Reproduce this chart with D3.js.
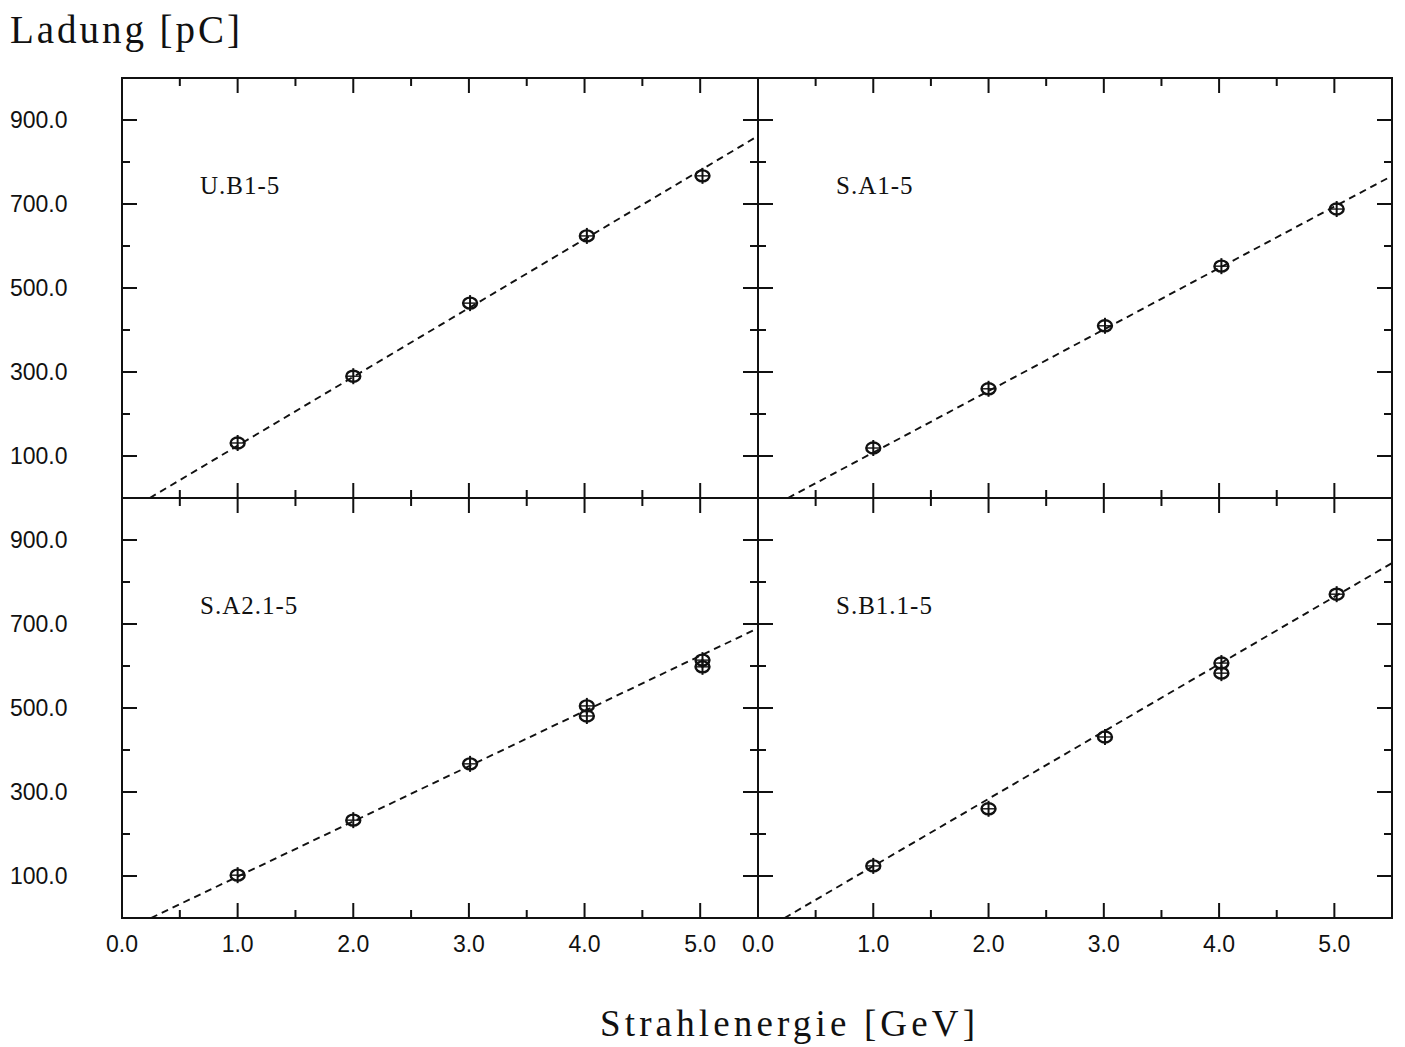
<!DOCTYPE html>
<html>
<head>
<meta charset="utf-8">
<script src="https://cdn.jsdelivr.net/npm/d3@7/dist/d3.min.js"></script>
<style>
  html, body { margin: 0; padding: 0; background: #fff; }
  svg { display: block; }
</style>
</head>
<body>
<svg id="chart" width="1405" height="1047"></svg>
<script>
// ---- data ----
const panelNames = ["U.B1-5", "S.A1-5", "S.A2.1-5", "S.B1.1-5"];
const xTickValues = [0, 1, 2, 3, 4, 5];
const xTickLabels = ["0.0", "1.0", "2.0", "3.0", "4.0", "5.0"];
const yTickValues = [100, 300, 500, 700, 900];
const yTickLabels = ["100.0", "300.0", "500.0", "700.0", "900.0"];
const energies = [1.0, 2.0, 3.01, 4.02, 5.02];
const chargeUB1 = [[131], [290], [464], [624], [767]];
const chargeSA1 = [[119], [260], [410], [552], [688]];
const chargeSA21 = [[102], [233], [367], [505, 481], [614, 598]];
const chargeSB11 = [[124], [260], [431], [607, 583], [771]];
const fitUB1 = [[0.24, 0], [5.5, 862]];
const fitSA1 = [[0.26, 0], [5.5, 767]];
const fitSA21 = [[0.25, 0], [5.5, 690]];
const fitSB11 = [[0.23, 0], [5.5, 845]];
const yLabel = "Ladung [pC]";
const xLabel = "Strahlenergie [GeV]";

// ---- layout ----
const svg = d3.select("#chart");
const L = 122, M = 758, R = 1392, T = 78, MY = 498, B = 918;
const panels = [
  { name: panelNames[0], charges: chargeUB1, fit: fitUB1, x0: L, x1: M, y0: T, y1: MY },
  { name: panelNames[1], charges: chargeSA1, fit: fitSA1, x0: M, x1: R, y0: T, y1: MY },
  { name: panelNames[2], charges: chargeSA21, fit: fitSA21, x0: L, x1: M, y0: MY, y1: B },
  { name: panelNames[3], charges: chargeSB11, fit: fitSB11, x0: M, x1: R, y0: MY, y1: B }
];
const xDomain = [0, 5.5], yDomain = [0, 1000];
const majorLen = 15, minorLen = 8;
const ink = "#111";
const serif = "'Liberation Serif', 'DejaVu Serif', serif";

panels.forEach((p, i) => {
  const x = d3.scaleLinear().domain(xDomain).range([p.x0, p.x1]);
  const y = d3.scaleLinear().domain(yDomain).range([p.y1, p.y0]);
  const g = svg.append("g");
  const clipId = "clip" + i;
  svg.append("clipPath").attr("id", clipId).append("rect")
    .attr("x", p.x0).attr("y", p.y0).attr("width", p.x1 - p.x0).attr("height", p.y1 - p.y0);

  // frame
  g.append("rect").attr("x", p.x0).attr("y", p.y0)
    .attr("width", p.x1 - p.x0).attr("height", p.y1 - p.y0)
    .attr("fill", "none").attr("stroke", ink).attr("stroke-width", 2);

  // x ticks (top & bottom edges, inward)
  d3.range(0.5, 5.5, 0.5).forEach(v => {
    const major = Math.abs(v - Math.round(v)) < 1e-6;
    const len = major ? majorLen : minorLen;
    const px = x(v);
    g.append("line").attr("x1", px).attr("x2", px).attr("y1", p.y0).attr("y2", p.y0 + len)
      .attr("stroke", ink).attr("stroke-width", 2);
    g.append("line").attr("x1", px).attr("x2", px).attr("y1", p.y1).attr("y2", p.y1 - len)
      .attr("stroke", ink).attr("stroke-width", 2);
  });
  // y ticks (left & right edges, inward)
  d3.range(100, 1000, 100).forEach(v => {
    const major = yTickValues.includes(v);
    const len = major ? majorLen : minorLen;
    const py = y(v);
    g.append("line").attr("x1", p.x0).attr("x2", p.x0 + len).attr("y1", py).attr("y2", py)
      .attr("stroke", ink).attr("stroke-width", 2);
    g.append("line").attr("x1", p.x1).attr("x2", p.x1 - len).attr("y1", py).attr("y2", py)
      .attr("stroke", ink).attr("stroke-width", 2);
  });

  // fit line
  g.append("path")
    .attr("clip-path", `url(#${clipId})`)
    .attr("d", d3.line().x(d => x(d[0])).y(d => y(d[1]))(p.fit))
    .attr("fill", "none").attr("stroke", ink).attr("stroke-width", 1.9)
    .attr("stroke-dasharray", "7,5");

  // markers
  p.charges.forEach((vals, k) => {
    vals.forEach(v => {
      const cx = x(energies[k]), cy = y(v);
      const m = g.append("g").attr("transform", `translate(${cx},${cy})`);
      m.append("line").attr("x1", 0).attr("x2", 0).attr("y1", -8).attr("y2", 8)
        .attr("stroke", ink).attr("stroke-width", 2);
      m.append("line").attr("x1", -7).attr("x2", 7).attr("y1", 0).attr("y2", 0)
        .attr("stroke", ink).attr("stroke-width", 1.4);
      m.append("ellipse").attr("rx", 7).attr("ry", 5.5)
        .attr("fill", "none").attr("stroke", ink).attr("stroke-width", 2.4);
    });
  });

  // panel label
  g.append("text").attr("x", p.x0 + 78).attr("y", p.y0 + 116)
    .attr("font-family", serif)
    .attr("font-size", 25).attr("letter-spacing", 1.0).attr("fill", ink)
    .text(p.name);

  // y tick labels (left column only)
  if (p.x0 === L) {
    yTickValues.forEach((v, j) => {
      g.append("text").attr("x", 10).attr("y", y(v) + 8)
        .attr("font-family", "'Liberation Sans', Arial, sans-serif")
        .attr("font-size", 23).attr("fill", ink)
        .text(yTickLabels[j]);
    });
  }
  // x tick labels (bottom row only)
  if (p.y1 === B) {
    xTickValues.forEach((v, j) => {
      g.append("text").attr("x", x(v)).attr("y", B + 34)
        .attr("text-anchor", "middle")
        .attr("font-family", "'Liberation Sans', Arial, sans-serif")
        .attr("font-size", 23).attr("fill", ink)
        .text(xTickLabels[j]);
    });
  }
});

// axis titles
svg.append("text").attr("x", 10).attr("y", 43)
  .attr("font-family", serif).attr("font-size", 39).attr("fill", ink)
  .attr("textLength", 230).attr("lengthAdjust", "spacing")
  .text(yLabel);
svg.append("text").attr("x", 600).attr("y", 1036)
  .attr("font-family", serif).attr("font-size", 37).attr("fill", ink)
  .attr("textLength", 375).attr("lengthAdjust", "spacing")
  .text(xLabel);
</script>
</body>
</html>
